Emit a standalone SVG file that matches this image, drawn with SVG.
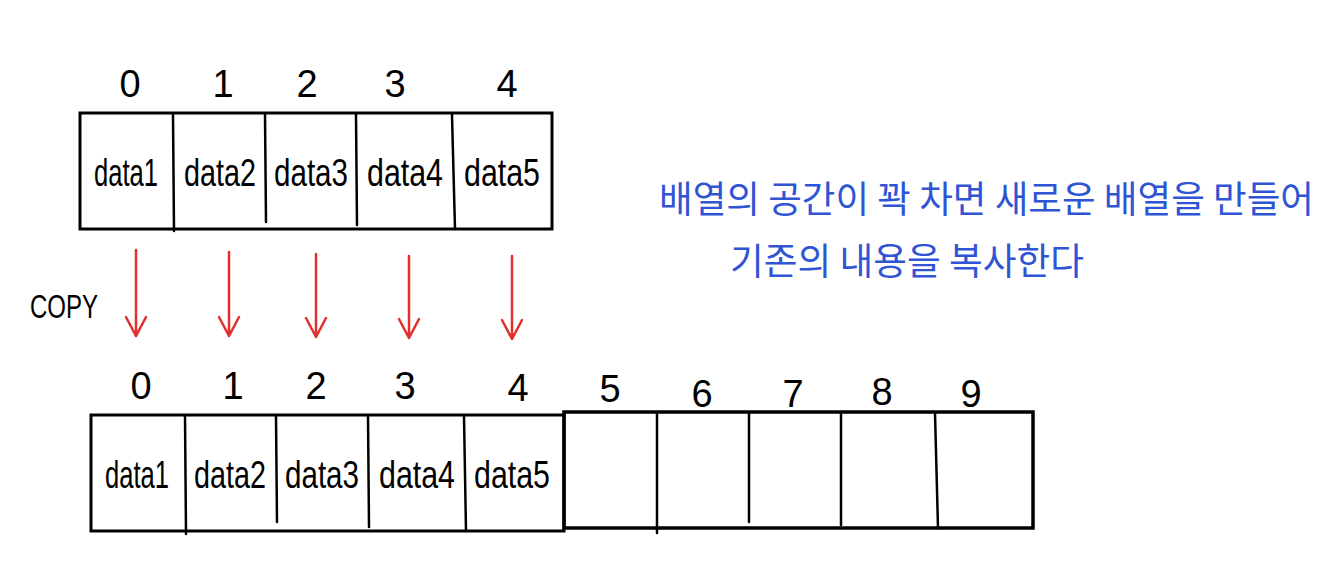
<svg xmlns="http://www.w3.org/2000/svg" width="1332" height="588" viewBox="0 0 1332 588">
<defs>
<style>
.box{fill:none;stroke:#000;stroke-width:3;stroke-linecap:round}
.div{stroke:#000;stroke-width:2.5;stroke-linecap:round}
.idx{font-family:"Liberation Sans",sans-serif;font-size:38px;fill:#000;text-anchor:middle}
.dat{font-family:"Liberation Sans",sans-serif;font-size:38px;fill:#000;text-anchor:middle}
.ko{font-family:"Noto Sans CJK KR",sans-serif;font-size:37px;fill:#2f55d4}
.copy{font-family:"Liberation Sans",sans-serif;font-size:34px;fill:#000}
.arr{stroke:#e03030;stroke-width:2.5;fill:none;stroke-linecap:round;stroke-linejoin:round}
</style>
</defs>
<rect width="1332" height="588" fill="#fff"/>

<g id="top-array">
<rect class="box" x="80" y="113" width="472" height="116"/>
<line class="div" x1="173" y1="115" x2="174" y2="231"/>
<line class="div" x1="265" y1="115" x2="266" y2="222"/>
<line class="div" x1="356" y1="115" x2="357" y2="225"/>
<line class="div" x1="452" y1="115" x2="455" y2="229"/>
</g>
<g id="top-indices">
<text class="idx" x="130" y="97">0</text>
<text class="idx" x="223" y="97">1</text>
<text class="idx" x="307" y="97">2</text>
<text class="idx" x="395" y="97">3</text>
<text class="idx" x="507" y="97">4</text>
</g>
<g id="top-data">
<text class="dat" x="126" y="186" textLength="64" lengthAdjust="spacingAndGlyphs">data1</text>
<text class="dat" x="220" y="186" textLength="72" lengthAdjust="spacingAndGlyphs">data2</text>
<text class="dat" x="311" y="186" textLength="74" lengthAdjust="spacingAndGlyphs">data3</text>
<text class="dat" x="405" y="186" textLength="76" lengthAdjust="spacingAndGlyphs">data4</text>
<text class="dat" x="502" y="186" textLength="76" lengthAdjust="spacingAndGlyphs">data5</text>
</g>

<g id="copy-label">
<text class="copy" x="30" y="318" textLength="68" lengthAdjust="spacingAndGlyphs">COPY</text>
</g>

<g id="connectors">
<path class="arr" d="M136 250 V336 M126 317 L136 336 L146 317"/>
<path class="arr" d="M229 252 V336 M219 317 L229 336 L239 317"/>
<path class="arr" d="M316 254 V337 M306 318 L316 337 L326 318"/>
<path class="arr" d="M409 256 V338 M399 319 L409 338 L419 319"/>
<path class="arr" d="M512 256 V339 M502 320 L512 339 L522 320"/>
</g>

<g id="bottom-array">
<rect class="box" x="91" y="415" width="473" height="116"/>
<rect class="box" x="564" y="412" width="469" height="116" style="stroke-width:3.5"/>
<line class="div" x1="185" y1="416" x2="186" y2="534"/>
<line class="div" x1="276" y1="416" x2="277" y2="522"/>
<line class="div" x1="368" y1="416" x2="369" y2="527"/>
<line class="div" x1="464" y1="416" x2="466" y2="531"/>
<line class="div" x1="657" y1="413" x2="657" y2="533"/>
<line class="div" x1="749" y1="413" x2="749" y2="522"/>
<line class="div" x1="841" y1="413" x2="841" y2="525"/>
<line class="div" x1="935" y1="413" x2="938" y2="528"/>
</g>
<g id="bottom-indices">
<text class="idx" x="141" y="399">0</text>
<text class="idx" x="233" y="399">1</text>
<text class="idx" x="316" y="399">2</text>
<text class="idx" x="405" y="399">3</text>
<text class="idx" x="518" y="401">4</text>
<text class="idx" x="610" y="402">5</text>
<text class="idx" x="702" y="407">6</text>
<text class="idx" x="793" y="407">7</text>
<text class="idx" x="882" y="405">8</text>
<text class="idx" x="971" y="407">9</text>
</g>
<g id="bottom-data">
<text class="dat" x="137" y="488" textLength="64" lengthAdjust="spacingAndGlyphs">data1</text>
<text class="dat" x="230" y="488" textLength="72" lengthAdjust="spacingAndGlyphs">data2</text>
<text class="dat" x="322" y="488" textLength="74" lengthAdjust="spacingAndGlyphs">data3</text>
<text class="dat" x="417" y="488" textLength="76" lengthAdjust="spacingAndGlyphs">data4</text>
<text class="dat" x="512" y="488" textLength="76" lengthAdjust="spacingAndGlyphs">data5</text>
</g>

<g id="note">
<text class="ko" x="659" y="213" textLength="655" lengthAdjust="spacingAndGlyphs">배열의 공간이 꽉 차면 새로운 배열을 만들어</text>
<text class="ko" x="730" y="275" textLength="354" lengthAdjust="spacingAndGlyphs">기존의 내용을 복사한다</text>
</g>
</svg>
